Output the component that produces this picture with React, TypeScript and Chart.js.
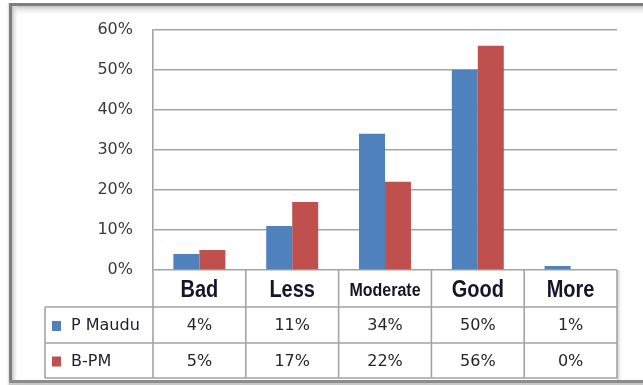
import React, { useEffect, useRef } from 'react';
import { Chart, registerables } from 'chart.js';

Chart.register(...registerables);

const categories = ['Bad', 'Less', 'Moderate', 'Good', 'More'];
const seriesNames = ['P Maudu', 'B-PM'];
const pMaudu = [4, 11, 34, 50, 1];
const bPM = [5, 17, 22, 56, 0];
const yMin = 0;
const yMax = 60;
const yStep = 10;

const BLUE = '#4F81BD';
const RED = '#C0504D';
const GRID = '#a3a3a3';
const W = 643;
const H = 385;

export default function App() {
  const ref = useRef<HTMLCanvasElement>(null);

  useEffect(() => {
    document.body.style.margin = '0';
    const canvas = ref.current;
    if (!canvas) return;

    const framePlugin = {
      id: 'frame',
      beforeDraw(chart: any) {
        const ctx = chart.ctx as CanvasRenderingContext2D;
        ctx.save();
        ctx.fillStyle = '#ffffff';
        ctx.fillRect(0, 0, W, H);
        let g = ctx.createLinearGradient(0, 6, 0, 16);
        g.addColorStop(0, '#c4c4c4');
        g.addColorStop(1, 'rgba(255,255,255,0)');
        ctx.fillStyle = g;
        ctx.fillRect(12, 6, W, 10);
        g = ctx.createLinearGradient(12, 0, 19, 0);
        g.addColorStop(0, '#c4c4c4');
        g.addColorStop(1, 'rgba(255,255,255,0)');
        ctx.fillStyle = g;
        ctx.fillRect(12, 6, 7, 374);
        g = ctx.createLinearGradient(6, 0, 10, 0);
        g.addColorStop(0, 'rgba(255,255,255,0)');
        g.addColorStop(1, '#bdbdbd');
        ctx.fillStyle = g;
        ctx.fillRect(6, 3, 4, 382);
        ctx.fillStyle = '#7d7d7d';
        ctx.fillRect(9, 3, W, 3);
        ctx.fillRect(9, 3, 3, 380);
        ctx.fillStyle = '#8c8c8c';
        ctx.fillRect(9, 380, W, 3);
        ctx.fillStyle = '#c8c8c8';
        ctx.fillRect(9, 383, W, 2);
        ctx.restore();
      },
      afterDraw(chart: any) {
        const ctx = chart.ctx as CanvasRenderingContext2D;
        const x = chart.scales.x;
        const area = chart.chartArea;
        const n = categories.length;
        const cw = (area.right - area.left) / n;
        const legendLeft = 45;
        const headTop = area.bottom;
        const headBottom = 307;
        const row1Bottom = 343;
        const row2Bottom = 378;
        const right = area.right;

        ctx.save();
        const g = ctx.createLinearGradient(right, 0, right + 6, 0);
        g.addColorStop(0, '#c6c6c6');
        g.addColorStop(1, 'rgba(255,255,255,0)');
        ctx.fillStyle = g;
        ctx.fillRect(right, headTop, 6, row2Bottom - headTop + 2);

        ctx.strokeStyle = GRID;
        ctx.lineWidth = 1.6;
        ctx.beginPath();
        ctx.moveTo(legendLeft, headBottom);
        ctx.lineTo(right, headBottom);
        ctx.moveTo(legendLeft, row1Bottom);
        ctx.lineTo(right, row1Bottom);
        ctx.moveTo(legendLeft, row2Bottom);
        ctx.lineTo(right, row2Bottom);
        ctx.moveTo(legendLeft, headBottom);
        ctx.lineTo(legendLeft, row2Bottom);
        for (let i = 0; i <= n; i++) {
          const bx = area.left + i * cw;
          ctx.moveTo(bx, headTop);
          ctx.lineTo(bx, row2Bottom);
        }
        ctx.stroke();

        // header labels (slightly stretched vertically, as in the reference)
        ctx.textAlign = 'center';
        ctx.textBaseline = 'middle';
        ctx.fillStyle = '#15152a';
        const stretch = 1.15;
        categories.forEach((c, i) => {
          let size = 20;
          ctx.font = `bold ${size}px 'Liberation Sans', Arial, sans-serif`;
          while (ctx.measureText(c).width > cw * 0.78 && size > 8) {
            size -= 1;
            ctx.font = `bold ${size}px 'Liberation Sans', Arial, sans-serif`;
          }
          const cy = (headTop + headBottom) / 2 + 2;
          ctx.save();
          ctx.translate(x.getPixelForValue(i), cy);
          ctx.scale(1, stretch);
          ctx.fillText(c, 0, 0);
          ctx.restore();
        });

        const rows = [pMaudu, bPM];
        const colors = [BLUE, RED];
        const rowTops = [headBottom, row1Bottom];
        const rowBottoms = [row1Bottom, row2Bottom];
        ctx.font = `16px 'DejaVu Sans', sans-serif`;
        rows.forEach((vals, r) => {
          const cy = (rowTops[r] + rowBottoms[r]) / 2 + 1;
          ctx.fillStyle = '#262626';
          ctx.textAlign = 'center';
          vals.forEach((v, i) => {
            ctx.fillText(`${v}%`, x.getPixelForValue(i), cy);
          });
          ctx.fillStyle = colors[r];
          ctx.fillRect(52, cy - 5, 9, 10);
          ctx.fillStyle = '#1e1e30';
          ctx.textAlign = 'left';
          ctx.fillText(seriesNames[r], 71, cy);
        });
        ctx.restore();
      },
    };

    const chart = new Chart(canvas, {
      type: 'bar',
      data: {
        labels: categories,
        datasets: [
          { label: seriesNames[0], data: pMaudu, backgroundColor: BLUE },
          { label: seriesNames[1], data: bPM, backgroundColor: RED },
        ],
      },
      options: {
        responsive: false,
        maintainAspectRatio: false,
        animation: false,
        layout: { padding: { top: 27, right: 26, bottom: 115, left: 0 } },
        datasets: {
          bar: { categoryPercentage: 0.56, barPercentage: 1 },
        },
        plugins: {
          legend: { display: false },
          tooltip: { enabled: false },
          title: { display: false },
        },
        scales: {
          x: { display: false },
          y: {
            min: yMin,
            max: yMax,
            ticks: {
              stepSize: yStep,
              padding: 20,
              color: '#3a3a3a',
              font: { family: "'DejaVu Sans', sans-serif", size: 16 },
              callback: (v: any) => `${v}%`,
            },
            grid: { color: GRID, lineWidth: 1.6, drawTicks: false },
            border: { display: true, color: GRID, width: 1.6 },
            afterFit: (scale: any) => {
              scale.width = 153;
            },
          },
        },
      },
      plugins: [framePlugin],
    });

    return () => chart.destroy();
  }, []);

  return (
    <canvas
      ref={ref}
      width={W}
      height={H}
      style={{ display: 'block', width: W, height: H }}
    />
  );
}
